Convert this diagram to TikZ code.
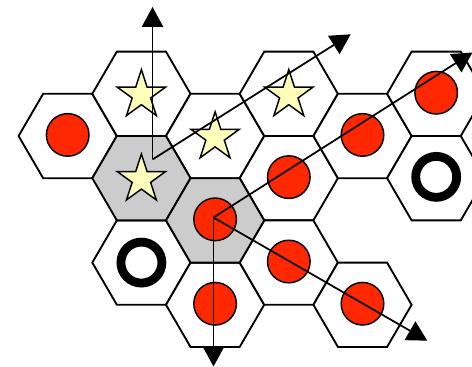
\documentclass[tikz,border=0pt]{standalone}
\usetikzlibrary{arrows.meta}

\definecolor{cellgrey}{RGB}{204,204,204}
\definecolor{dotred}{RGB}{255,40,0}
\definecolor{staryellow}{RGB}{255,255,187}

\tikzset{
  hexline/.style={draw=black, line width=1.4pt, line join=miter},
  hexcell/.pic={
    \path[hexline, fill=#1] (-49.1,0) -- (-24.55,-42.2) -- (24.55,-42.2)
      -- (49.1,0) -- (24.55,42.2) -- (-24.55,42.2) -- cycle;
  },
  starcell/.pic={
    \path[draw=black, line width=1.1pt, fill=staryellow, line join=miter]
      (270:25.4) -- (306:9.7) -- (342:25.4) -- (18:9.7) -- (54:25.4)
      -- (90:9.7) -- (126:25.4) -- (162:9.7) -- (198:25.4) -- (234:9.7) -- cycle;
  },
  reddot/.style={draw=black, line width=1.1pt, fill=dotred},
  ringmark/.style={draw=black, line width=6.6pt},
  vector/.style={draw=black, line width=1.3pt,
    -{Triangle[length=15pt, width=16pt]}},
}

\begin{document}
\begin{tikzpicture}[x=0.75pt, y=-0.75pt]
  \useasboundingbox (0,0) rectangle (472,367);
  \clip (0,0) rectangle (472,367);

  % cell centres, column by column
  \coordinate (c0a) at (67.7,136);
  \coordinate (c1a) at (141.4,93.8);
  \coordinate (c1b) at (141.4,178.2);
  \coordinate (c1c) at (141.4,262.6);
  \coordinate (c2a) at (215.1,136);
  \coordinate (c2b) at (215.1,220.4);
  \coordinate (c2c) at (215.1,304.8);
  \coordinate (c3a) at (288.8,93.8);
  \coordinate (c3b) at (288.8,178.2);
  \coordinate (c3c) at (288.8,262.6);
  \coordinate (c4a) at (362.5,136);
  \coordinate (c4c) at (362.5,304.8);
  \coordinate (c5a) at (436.2,93.8);
  \coordinate (c5b) at (436.2,178.2);

  % hexagonal cells
  \foreach \c in {c0a,c1a,c1c,c2a,c2c,c3a,c3b,c3c,c4a,c4c,c5a,c5b}
    \pic at (\c) {hexcell=white};
  \pic at (c1b) {hexcell=cellgrey};
  \pic at (c2b) {hexcell=cellgrey};

  % stars
  \foreach \c in {c1a,c1b,c2a,c3a}
    \pic at ([yshift=-0.9pt]\c) {starcell};

  % red discs
  \foreach \c in {c0a,c2b,c2c,c3b,c3c,c4a,c4c,c5a}
    \path[reddot] ([yshift=0.8pt]\c) circle (21.3);

  % rings
  \path[ringmark] (c1c) circle (20.5);
  \path[ringmark] ([yshift=1pt]c5b) circle (20.5);

  % vectors
  \coordinate (p1) at (152.5,159.5);
  \coordinate (p2) at (213.5,217.5);
  \coordinate (t1) at (152.5,7);
  \coordinate (t2) at (350.7,34.3);
  \coordinate (t3) at (213.5,366.5);
  \coordinate (t4) at (472.5,52.5);
  \coordinate (t5) at (427.3,340.7);

  \draw[vector] (p1) -- (t1);
  \draw[vector] (p1) -- (t2);
  \draw[vector] (p2) -- (t3);
  \draw[vector] (p2) -- (t4);
  \draw[vector] (p2) -- (t5);
\end{tikzpicture}
\end{document}
